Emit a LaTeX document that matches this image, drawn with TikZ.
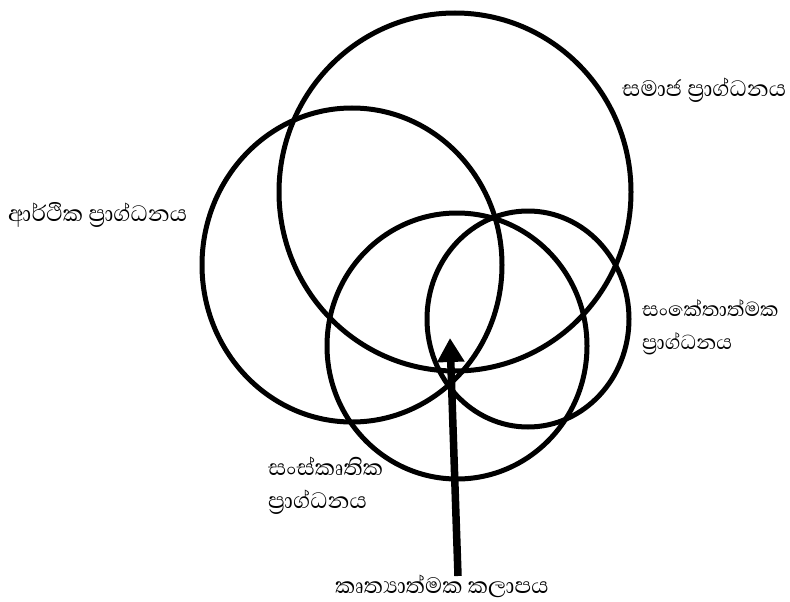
\documentclass[tikz,border=0pt]{standalone}
\usepackage{fontspec}
\newfontfamily\sinhalafont[Script=Sinhala]{Abhaya Libre}
\usetikzlibrary{arrows.meta}
\begin{document}
\begin{tikzpicture}[x=1pt,y=-1pt,
  ring/.style={draw=black,line width=5pt},
  lbl/.style={font=\sinhalafont\fontsize{28.5}{33}\selectfont,inner sep=0pt,anchor=west,align=left},
  bigarrow/.style={line width=7.5pt,-{Triangle[length=24pt,width=26pt]}}]
\useasboundingbox (0,0) rectangle (790,602);
\draw[ring] (455,192) ellipse [x radius=176,y radius=179];
\draw[ring] (352,265) ellipse [x radius=150,y radius=157];
\draw[ring] (457,346) ellipse [x radius=130,y radius=133];
\draw[ring] (528,319) ellipse [x radius=101,y radius=108];
\node[lbl] (soc) at (622,90) {සමාජ ප්‍රාග්ධනය};
\node[lbl] (eco) at (8,215) {ආර්ථික ප්‍රාග්ධනය};
\node[lbl,font=\sinhalafont\fontsize{26}{33}\selectfont] (sym) at (642,327) {සංකේතාත්මක\\ප්‍රාග්ධනය};
\node[lbl] (cul) at (268,486) {සංස්කෘතික\\ප්‍රාග්ධනය};
\node[lbl] (fun) at (335,586) {කෘත්‍යාත්මක කලාපය};
\coordinate (tail) at (458,576);
\coordinate (tip) at (450,338);
\draw[bigarrow] (tail) -- (tip);
\end{tikzpicture}
\end{document}
